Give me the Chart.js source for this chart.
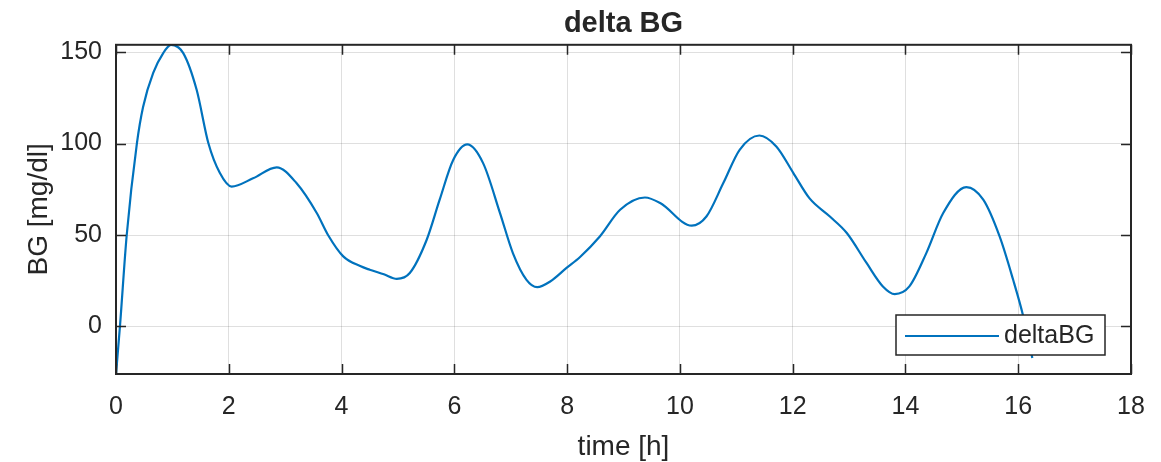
<!DOCTYPE html>
<html>
<head>
<meta charset="utf-8">
<script src="https://cdn.jsdelivr.net/npm/chart.js@4.4.0/dist/chart.umd.min.js"></script>
<style>
    html, body { margin: 0; padding: 0; background: #fff; }
</style>
</head>
<body>
<canvas id="chart" width="1161" height="462"></canvas>
<script>
// values
var timeH = [0, 0.07, 0.19, 0.37, 0.48, 0.66, 0.84, 0.975, 1.19, 1.43, 1.64, 1.84, 2.05, 2.43, 2.85, 3.2, 3.56, 3.76, 4.03, 4.33, 4.5, 4.75, 4.98, 5.21, 5.51, 5.74, 5.98, 6.23, 6.51, 6.81, 7.04, 7.28, 7.47, 7.7, 7.99, 8.23, 8.58, 8.94, 9.38, 9.65, 10.21, 10.47, 10.77, 11.06, 11.41, 11.71, 12.01, 12.3, 12.66, 12.96, 13.31, 13.6, 13.81, 14.07, 14.37, 14.67, 15.08, 15.38, 15.67, 15.91, 16.09, 16.25];
var deltaBG = [-26, 0, 50, 100, 120, 138.6, 149.6, 154, 149.6, 129.4, 100, 84, 76.5, 81, 87, 78.4, 62, 50, 38.3, 33, 31, 28.5, 26, 29.2, 47.4, 69.3, 91, 99.5, 89.3, 62, 40, 25.5, 21.5, 24.6, 32, 38, 49.2, 63.8, 70.5, 67.5, 55.1, 60.1, 78.4, 96.6, 104.4, 98.4, 84, 70, 60.1, 51.1, 34.7, 21.9, 17.7, 21.9, 40.1, 62, 76.2, 69.3, 49.2, 25.5, 5.5, -17.3];
var xTicks = [0, 2, 4, 6, 8, 10, 12, 14, 16, 18];
var yTicks = [0, 50, 100, 150];
var seriesName = 'deltaBG';

var fontFam = "'Liberation Sans', Arial, sans-serif";
var textCol = '#262626';
var lineCol = '#0072BD';

var points = timeH.map(function(t, i) {
    return { x: t, y: deltaBG[i] };
});

// axes box, inward ticks and the legend, drawn the matlab way
var boxPlugin = {
    id: 'matlabBox',
    afterDraw: function(chart) {
        var ctx = chart.ctx;
        var a = chart.chartArea;
        var xs = chart.scales.x;
        var ys = chart.scales.y;
        var tl = 10;
        ctx.save();
        ctx.strokeStyle = textCol;
        ctx.lineWidth = 1.5;
        ctx.beginPath();
        xTicks.forEach(function(v) {
            var px = Math.round(xs.getPixelForValue(v)) + 0.5;
            ctx.moveTo(px, a.bottom);
            ctx.lineTo(px, a.bottom - tl);
            ctx.moveTo(px, a.top);
            ctx.lineTo(px, a.top + tl);
        });
        yTicks.forEach(function(v) {
            var py = Math.round(ys.getPixelForValue(v)) + 0.5;
            ctx.moveTo(a.left, py);
            ctx.lineTo(a.left + tl, py);
            ctx.moveTo(a.right, py);
            ctx.lineTo(a.right - tl, py);
        });
        ctx.stroke();
        ctx.lineWidth = 2;
        ctx.strokeRect(a.left, a.top, a.right - a.left, a.bottom - a.top);

        // legend box, lower right corner
        var lw = 209, lh = 40;
        var lx = a.right - 26 - lw;
        var ly = a.bottom - 19 - lh;
        ctx.fillStyle = '#fff';
        ctx.fillRect(lx, ly, lw, lh);
        ctx.lineWidth = 1.5;
        ctx.strokeRect(lx, ly, lw, lh);
        ctx.strokeStyle = lineCol;
        ctx.lineWidth = 2.2;
        ctx.beginPath();
        ctx.moveTo(lx + 9, ly + lh / 2 + 1);
        ctx.lineTo(lx + 103, ly + lh / 2 + 1);
        ctx.stroke();
        ctx.fillStyle = textCol;
        ctx.font = '25px ' + fontFam;
        ctx.textBaseline = 'middle';
        ctx.fillText(seriesName, lx + 108, ly + lh / 2 + 1);
        ctx.restore();
    }
};

var ctx = document.getElementById('chart').getContext('2d');
var chart = new Chart(ctx, {
    type: 'line',
    data: {
        datasets: [{
            label: seriesName,
            data: points,
            borderColor: lineCol,
            borderWidth: 2.2,
            pointRadius: 0,
            fill: false,
            tension: 0.4,
            cubicInterpolationMode: 'monotone'
        }]
    },
    options: {
        responsive: false,
        animation: false,
        layout: {
            padding: { left: 0, right: 30, top: 0, bottom: 0 }
        },
        plugins: {
            legend: { display: false },
            tooltip: { enabled: false },
            title: {
                display: true,
                text: 'delta BG',
                fullSize: false,
                color: textCol,
                font: { family: fontFam, size: 29, weight: 'bold', lineHeight: 1.2 },
                padding: { top: 7, bottom: 3 }
            }
        },
        scales: {
            x: {
                type: 'linear',
                min: 0,
                max: 18,
                afterBuildTicks: function(scale) {
                    scale.ticks = xTicks.map(function(v) { return { value: v }; });
                },
                afterFit: function(scale) {
                    scale.height = 88;
                    scale.paddingLeft = 0;
                    scale.paddingRight = 0;
                },
                grid: {
                    color: 'rgba(38,38,38,0.15)',
                    lineWidth: 1,
                    drawTicks: false
                },
                border: { display: false },
                ticks: {
                    color: textCol,
                    font: { family: fontFam, size: 25 },
                    padding: 18,
                    maxRotation: 0
                },
                title: {
                    display: true,
                    text: 'time [h]',
                    color: textCol,
                    font: { family: fontFam, size: 28 },
                    padding: { top: 0, bottom: -2 }
                }
            },
            y: {
                type: 'linear',
                min: -26,
                max: 154,
                afterBuildTicks: function(scale) {
                    scale.ticks = yTicks.map(function(v) { return { value: v }; });
                },
                afterFit: function(scale) {
                    scale.width = 116;
                },
                grid: {
                    color: 'rgba(38,38,38,0.15)',
                    lineWidth: 1,
                    drawTicks: false
                },
                border: { display: false },
                ticks: {
                    color: textCol,
                    font: { family: fontFam, size: 25 },
                    padding: 14
                },
                title: {
                    display: true,
                    text: 'BG [mg/dl]',
                    color: textCol,
                    font: { family: fontFam, size: 28 },
                    padding: { top: 22, bottom: 0 }
                }
            }
        }
    },
    plugins: [boxPlugin]
});
</script>
</body>
</html>
